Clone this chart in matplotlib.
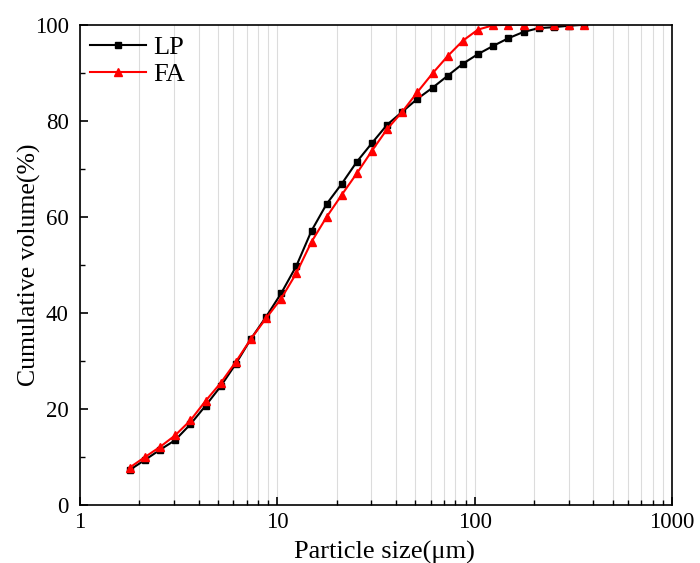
import matplotlib
matplotlib.use("Agg")
import matplotlib.pyplot as plt
from matplotlib.ticker import LogLocator, FixedLocator, NullFormatter

plt.rcParams['font.family'] = ['Liberation Serif', 'DejaVu Serif']

# particle size classes (um)
sizes = [1.79, 2.14, 2.55, 3.04, 3.63, 4.34, 5.17, 6.17, 7.36, 8.79,
         10.48, 12.51, 14.92, 17.81, 21.24, 25.35, 30.24, 36.08, 43.05, 51.37,
         61.29, 73.13, 87.27, 104.1, 124.2, 148.3, 176.9, 211.1, 251.8, 300.5,
         358.5]

# cumulative volume (%)
lp = [7.3, 9.4, 11.5, 13.5, 16.8, 20.7, 24.7, 29.4, 34.6, 39.2,
      44.1, 49.8, 57.1, 62.7, 66.9, 71.5, 75.4, 79.2, 81.9, 84.6,
      86.9, 89.4, 91.9, 93.9, 95.6, 97.2, 98.5, 99.3, 99.5, 99.8,
      100.0]
fa = [7.8, 10.0, 12.1, 14.5, 17.6, 21.7, 25.4, 29.8, 34.6, 38.9,
      43.0, 48.3, 54.8, 60.0, 64.6, 69.1, 73.8, 78.3, 81.9, 86.0,
      89.9, 93.5, 96.7, 99.0, 99.9, 100.0, 100.0, 100.0, 100.0, 100.0,
      100.0]

fig = plt.figure(figsize=(7, 5.63), dpi=100)
ax = fig.add_axes([0.114, 0.103, 0.846, 0.853])

ax.plot(sizes, lp, color='black', marker='s', markersize=4.5, linewidth=1.5, label='LP')
ax.plot(sizes, fa, color='red', marker='^', markersize=6, linewidth=1.5, label='FA')

ax.set_xscale('log')
ax.set_xlim(1, 1000)
ax.set_ylim(0, 100)
ax.xaxis.set_major_locator(FixedLocator([1, 10, 100, 1000]))
ax.xaxis.set_major_formatter(plt.FuncFormatter(lambda v, p: f'{v:g}'))
ax.xaxis.set_minor_locator(LogLocator(base=10, subs=range(2, 10)))
ax.xaxis.set_minor_formatter(NullFormatter())
ax.set_yticks([0, 20, 40, 60, 80, 100])
ax.set_yticks([10, 30, 50, 70, 90], minor=True)

ax.grid(True, which='both', axis='x', color='#dcdcdc', linewidth=0.8)
ax.set_axisbelow(True)

ax.tick_params(which='major', direction='in', length=6, width=1.2, labelsize=16.5)
ax.tick_params(which='minor', direction='in', length=3.5, width=1)
ax.tick_params(axis='y', which='major', pad=8)
ax.tick_params(axis='x', which='major', pad=5)
for s in ax.spines.values():
    s.set_linewidth(1.2)

ax.set_xlabel('Particle size(μm)', fontsize=19, labelpad=6)
ax.xaxis.label.set_x(0.515)
ax.set_ylabel('Cumulative volume(%)', fontsize=18.5)
ax.yaxis.set_label_coords(-0.066, 0.5)

ax.legend(loc='upper left', frameon=False, fontsize=19, handlelength=2.1,
          borderaxespad=0.25, labelspacing=0.15, handletextpad=0.3,
          borderpad=0.15)

fig.savefig('out.png', dpi=100)
